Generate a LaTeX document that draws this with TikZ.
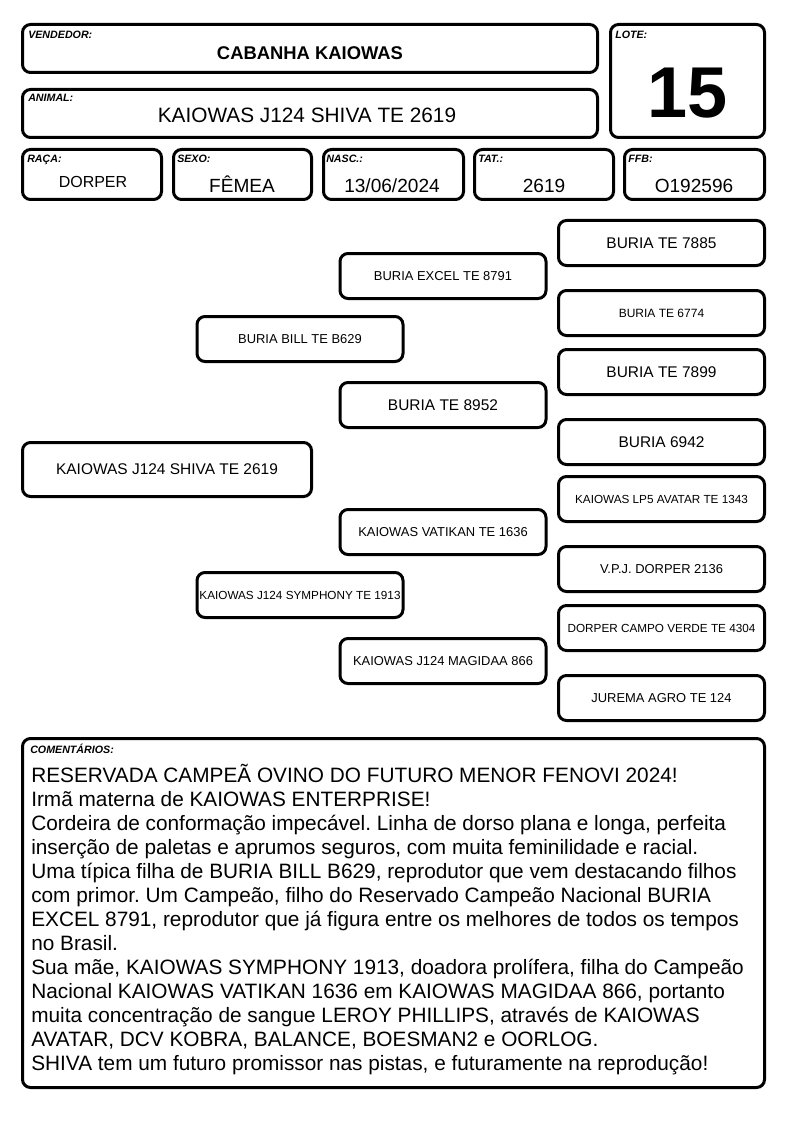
\documentclass[tikz,border=0pt]{standalone}
\usepackage{fontspec}
\setmainfont{Liberation Sans}
\usetikzlibrary{positioning}
\frenchspacing
\tikzset{
  card/.style={draw=black, line width=2.25pt, rounded corners=6pt, inner sep=0pt},
  cardsize/.style 2 args={minimum width=#1*0.75pt, minimum height=#2*0.75pt},
  fieldlbl/.style={anchor=base west, inner sep=0pt, font=\fontsize{8}{9}\selectfont\bfseries\itshape},
  fieldval/.style={anchor=base, inner sep=0pt, font=\fontsize{14.3}{16}\selectfont},
  pedbox/.style={card, cardsize={206}{45}, align=center},
  pedbig/.style={font=\fontsize{11.6}{13}\selectfont},
  pedmid/.style={font=\fontsize{9.7}{11}\selectfont},
  pedsmall/.style={font=\fontsize{8.8}{10}\selectfont},
}

\begin{document}
\begin{tikzpicture}[x=0.75pt, y=-0.75pt]
  \useasboundingbox (0,0) rectangle (794,1123);

  % header
  \node[card, cardsize={575}{48}] (vend) at (310,48.5) {};
  \node[fieldlbl] (vendlbl) at (28,39) {VENDEDOR:};
  \node[fieldval, font=\fontsize{13.8}{16}\selectfont\bfseries] (vendval) at (310,60) {CABANHA KAIOWAS};

  \node[card, cardsize={575}{48}] (animal) at (310,113.5) {};
  \node[fieldlbl] (animallbl) at (28,102) {ANIMAL:};
  \node[fieldval, font=\fontsize{15.6}{18}\selectfont] (animalval) at (307,123) {KAIOWAS J124 SHIVA TE 2619};

  \node[card, cardsize={154}{113}] (lote) at (687.5,81) {};
  \node[fieldlbl] (lotelbl) at (615,39) {LOTE:};
  \node[fieldval, font=\fontsize{54}{60}\selectfont\bfseries] (loteval) at (688,118) {15};

  \node[card, cardsize={139}{50}] (raca) at (92,174.5) {};
  \node[fieldlbl] (racalbl) at (27,163) {RAÇA:};
  \node[fieldval, font=\fontsize{12}{14}\selectfont] (racaval) at (93,188) {DORPER};

  \node[card, cardsize={138}{50}] (sexo) at (242.5,174.5) {};
  \node[fieldlbl] (sexolbl) at (177,163) {SEXO:};
  \node[fieldval] (sexoval) at (242,193) {FÊMEA};

  \node[card, cardsize={140}{50}] (nasc) at (393.5,174.5) {};
  \node[fieldlbl] (nasclbl) at (326,163) {NASC.:};
  \node[fieldval] (nascval) at (392,193) {13/06/2024};

  \node[card, cardsize={139}{50}] (tat) at (544,174.5) {};
  \node[fieldlbl] (tatlbl) at (478,163) {TAT.:};
  \node[fieldval] (tatval) at (544,193) {2619};

  \node[card, cardsize={140}{50}] (ffb) at (694.5,174.5) {};
  \node[fieldlbl] (ffblbl) at (628,163) {FFB:};
  \node[fieldval] (ffbval) at (694,193) {O192596};

  % pedigree
  \node[pedbox, pedbig, cardsize={289}{54}] (shiva) at (167,469.5) {KAIOWAS J124 SHIVA TE 2619};

  \node[pedbox, pedmid] (bill) at (300,339) {BURIA BILL TE B629};
  \node[pedbox, pedsmall] (symphony) at (300,595) {KAIOWAS J124 SYMPHONY TE 1913};

  \node[pedbox, pedmid] (excel) at (443,276) {BURIA EXCEL TE 8791};
  \node[pedbox, pedbig] (b8952) at (443,405) {BURIA TE 8952};
  \node[pedbox, pedmid] (vatikan) at (443,532) {KAIOWAS VATIKAN TE 1636};
  \node[pedbox, pedmid] (magidaa) at (443,661) {KAIOWAS J124 MAGIDAA 866};

  \node[pedbox, pedbig] (b7885) at (661.5,243) {BURIA TE 7885};
  \node[pedbox, font=\fontsize{9}{10}\selectfont] (b6774) at (661.5,313) {BURIA TE 6774};
  \node[pedbox, pedbig] (b7899) at (661.5,372) {BURIA TE 7899};
  \node[pedbox, pedbig] (b6942) at (661.5,442) {BURIA 6942};
  \node[pedbox, pedsmall] (avatar) at (661.5,499) {KAIOWAS LP5 AVATAR TE 1343};
  \node[pedbox, pedmid] (vpj) at (661.5,569) {V.P.J. DORPER 2136};
  \node[pedbox, pedsmall] (campo) at (661.5,628) {DORPER CAMPO VERDE TE 4304};
  \node[pedbox, pedmid] (jurema) at (661.5,698) {JUREMA AGRO TE 124};

  % comments
  \node[card, cardsize={742}{349}] (coment) at (393.5,913) {};
  \node[fieldlbl] (comentlbl) at (30,753) {COMENTÁRIOS:};
  \node[anchor=north west, inner sep=0pt, align=left, font=\fontsize{15.6}{18}\selectfont] (comenttxt) at (31,764)
    {RESERVADA CAMPEÃ OVINO DO FUTURO MENOR FENOVI 2024!\\
     Irmã materna de KAIOWAS ENTERPRISE!\\
     Cordeira de conformação impecável. Linha de dorso plana e longa, perfeita\\
     inserção de paletas e aprumos seguros, com muita feminilidade e racial.\\
     Uma típica filha de BURIA BILL B629, reprodutor que vem destacando filhos\\
     com primor. Um Campeão, filho do Reservado Campeão Nacional BURIA\\
     EXCEL 8791, reprodutor que já figura entre os melhores de todos os tempos\\
     no Brasil.\\
     Sua mãe, KAIOWAS SYMPHONY 1913, doadora prolífera, filha do Campeão\\
     Nacional KAIOWAS VATIKAN 1636 em KAIOWAS MAGIDAA 866, portanto\\
     muita concentração de sangue LEROY PHILLIPS, através de KAIOWAS\\
     AVATAR, DCV KOBRA, BALANCE, BOESMAN2 e OORLOG.\\
     SHIVA tem um futuro promissor nas pistas, e futuramente na reprodução!};
\end{tikzpicture}
\end{document}
